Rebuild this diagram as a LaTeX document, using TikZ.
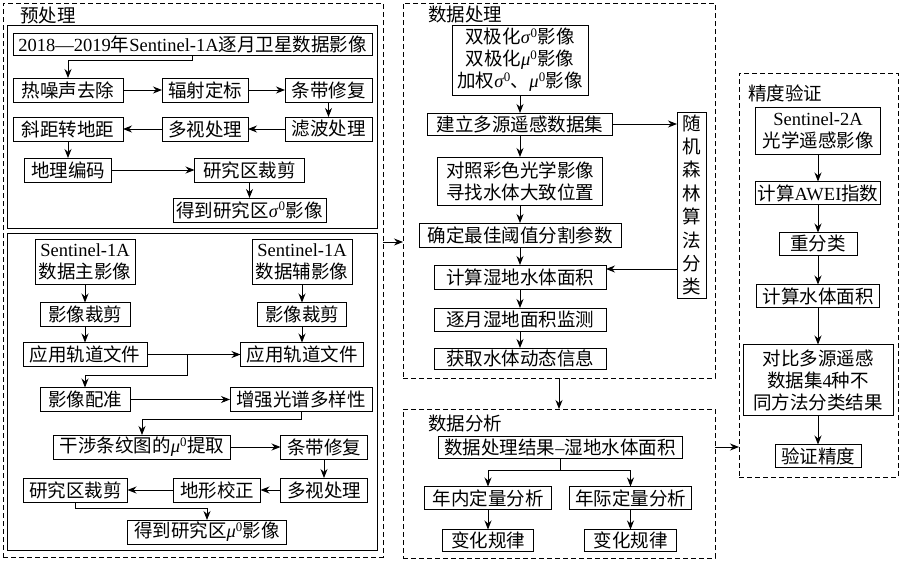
\documentclass[tikz,border=0pt]{standalone}
\usepackage{fontspec}
\setmainfont{Noto Sans CJK SC}
\newfontfamily\engfont{Liberation Serif}
\newcommand{\eng}[1]{{\engfont #1}}
\usepackage{tikz}
\usetikzlibrary{positioning}
\usetikzlibrary{arrows.meta}

\begin{document}
\begin{tikzpicture}[x=1pt,y=-1pt,line width=0.9pt,>={Stealth[length=9pt,width=7pt]},
	every node/.style={inner xsep=2pt,inner ysep=1pt,outer sep=0pt,align=center,font=\fontsize{18.5pt}{22pt}\selectfont},
	bx/.style={draw,minimum height=24pt},
	grp/.style={draw,dash pattern=on 5pt off 3pt,inner sep=0pt}]
	\useasboundingbox (0,0) rectangle (900,560);
	% groups
	\node (pre) [grp,minimum width=380pt,minimum height=554pt] at (193,280) {};
	\node (preA) [draw,minimum width=370pt,minimum height=203pt] at (192,126.5) {};
	\node (preB) [draw,minimum width=370pt,minimum height=317pt] at (192,391.5) {};
	\node (proc) [grp,minimum width=312pt,minimum height=375pt] at (559,190.5) {};
	\node (ana) [grp,minimum width=312pt,minimum height=149pt] at (559,483.5) {};
	\node (val) [grp,minimum width=159pt,minimum height=404pt] at (818.5,275) {};
	\node (prel) at (48,15) {预处理};
	\node (procl) at (465,14) {数据处理};
	\node (anal) at (465,423) {数据分析};
	\node (vall) at (785,93) {精度验证};
	% preprocessing, sigma
	\node (title) [bx,minimum width=359pt,minimum height=22pt] at (192.5,44) {\eng{2018—2019}年\eng{Sentinel-1A}逐月卫星数据影像};
	\node (heat) [bx,minimum width=110pt] at (68,90) {热噪声去除};
	\node (rad) [bx,minimum width=86pt,right=39pt of heat] {辐射定标};
	\node (strip1) [bx,minimum width=87pt,right=37pt of rad] {条带修复};
	\node (filt) [bx,minimum width=87pt,below=15pt of strip1] {滤波处理};
	\node (multi1) [bx,minimum width=86pt,left=37pt of filt] {多视处理};
	\node (slant) [bx,minimum width=110pt,left=39pt of multi1] {斜距转地距};
	\node (geo) [bx,minimum width=87pt,below=17pt of slant] {地理编码};
	\node (clip1) [bx,minimum width=110pt,right=83pt of geo] {研究区裁剪};
	\node (sig) [bx,minimum width=153pt,below=16pt of clip1] {得到研究区\eng{\textit{σ}\textsuperscript{0}}影像};
	\draw[->] (title.south) -- ++(0,5) -| (heat.north);
	\path[->]
		(heat) edge (rad)
		(rad) edge (strip1)
		(strip1) edge (filt)
		(filt) edge (multi1)
		(multi1) edge (slant)
		(slant) edge (geo)
		(geo) edge (clip1)
		(clip1) edge (sig);
	% preprocessing, mu
	\node (main) [bx,minimum width=100pt,minimum height=45pt] at (85,262) {\eng{Sentinel-1A}\\数据主影像};
	\node (aux) [bx,minimum width=100pt,minimum height=45pt,right=117pt of main] {\eng{Sentinel-1A}\\数据辅影像};
	\node (crop1) [bx,minimum width=90pt,below=18pt of main] {影像裁剪};
	\node (crop2) [bx,minimum width=89pt,below=18pt of aux] {影像裁剪};
	\node (orb1) [bx,minimum width=124pt,below=16pt of crop1] {应用轨道文件};
	\node (orb2) [bx,minimum width=123pt,below=16pt of crop2] {应用轨道文件};
	\node (reg) [bx,minimum width=90pt,below=21pt of orb1] {影像配准};
	\node (enh) [bx,minimum width=142pt,right=100pt of reg] {增强光谱多样性};
	\node (intf) [bx,minimum width=177pt] at (142,447) {干涉条纹图的\eng{\textit{μ}\textsuperscript{0}}提取};
	\node (strip2) [bx,minimum width=87pt,right=50pt of intf] {条带修复};
	\node (multi2) [bx,minimum width=87pt,below=19pt of strip2] {多视处理};
	\node (terr) [bx,minimum width=87pt,left=20pt of multi2] {地形校正};
	\node (clip2) [bx,minimum width=104pt,left=46pt of terr] {研究区裁剪};
	\node (mu) [bx,minimum width=159pt] at (207,532) {得到研究区\eng{\textit{μ}\textsuperscript{0}}影像};
	\coordinate (br) at (187,355);
	\path[->]
		(main) edge (crop1)
		(crop1) edge (orb1)
		(aux) edge (crop2)
		(crop2) edge (orb2)
		(orb1) edge (orb2)
		(reg) edge (enh)
		(intf) edge (strip2)
		(strip2) edge (multi2)
		(multi2) edge (terr)
		(terr) edge (clip2);
	\draw[->] (br) -- ++(0,20) -| (reg.north);
	\draw[->] (enh.south) -- ++(0,8) -| (intf.north);
	\draw[->] (clip2.south) -- ++(0,6) -| (mu.north);
	% data processing
	\node (pol) [bx,minimum width=136pt,minimum height=70pt] at (520,60) {双极化\eng{\textit{σ}\textsuperscript{0}}影像\\双极化\eng{\textit{μ}\textsuperscript{0}}影像\\加权\eng{\textit{σ}\textsuperscript{0}}、\eng{\textit{μ}\textsuperscript{0}}影像};
	\node (build) [bx,minimum width=185pt,minimum height=22pt,below=18pt of pol] {建立多源遥感数据集};
	\node (comp) [bx,minimum width=165pt,minimum height=48pt,below=22pt of build] {对照彩色光学影像\\寻找水体大致位置};
	\node (thr) [bx,minimum width=202pt,below=18pt of comp] {确定最佳阈值分割参数};
	\node (area) [bx,minimum width=172pt,below=18pt of thr] {计算湿地水体面积};
	\node (month) [bx,minimum width=172pt,minimum height=23pt,below=19pt of area] {逐月湿地面积监测};
	\node (dyn) [bx,minimum width=172pt,minimum height=21pt,below=17pt of month] {获取水体动态信息};
	\node (forest) [bx,minimum width=29pt,minimum height=186pt,font=\fontsize{18.5pt}{23.4pt}\selectfont] at (691.5,205) {随\\机\\森\\林\\算\\法\\分\\类};
	\path[->]
		(pol) edge (build)
		(build) edge (comp)
		(comp) edge (thr)
		(thr) edge (area)
		(area) edge (month)
		(month) edge (dyn)
		(proc) edge (ana);
	\draw[->] (build.east) -- (build.east -| forest.west);
	\draw[->] ([yshift=8pt]area.east -| forest.west) -- ([yshift=8pt]area.east);
	\draw[->] ([yshift=38pt]pre.east) -- ([yshift=38pt]pre.east -| proc.west);
	% data analysis
	\node (res) [bx,minimum width=244pt,minimum height=22pt] at (560,447) {数据处理结果\eng{–}湿地水体面积};
	\node (intra) [bx,minimum width=127pt,minimum height=23pt] at (488,498) {年内定量分析};
	\node (inter) [bx,minimum width=122pt,minimum height=23pt,right=18pt of intra] {年际定量分析};
	\node (law1) [bx,minimum width=91pt,minimum height=22pt,below=20pt of intra] {变化规律};
	\node (law2) [bx,minimum width=92pt,minimum height=22pt,below=20pt of inter] {变化规律};
	\draw[->] (res.south) -- ++(0,12) -| (intra.north);
	\draw[->] (res.south) -- ++(0,12) -| (inter.north);
	\path[->]
		(intra) edge (law1)
		(inter) edge (law2);
	\draw[->] ([yshift=36.5pt]ana.east) -- ([yshift=36.5pt]ana.east -| val.west);
	% validation
	\node (s2) [bx,minimum width=125pt,minimum height=47pt] at (818,131) {\eng{Sentinel-2A}\\光学遥感影像};
	\node (awei) [bx,minimum width=123pt,minimum height=23pt,below=27pt of s2] {计算\eng{AWEI}指数};
	\node (recl) [bx,minimum width=78pt,minimum height=23pt,below=28pt of awei] {重分类};
	\node (warea) [bx,minimum width=123pt,minimum height=23pt,below=29pt of recl] {计算水体面积};
	\node (cmp) [bx,minimum width=150pt,minimum height=71pt,below=37pt of warea] {对比多源遥感\\数据集\eng{4}种不\\同方法分类结果};
	\node (acc) [bx,minimum width=86pt,minimum height=23pt,below=29pt of cmp] {验证精度};
	\path[->]
		(s2) edge (awei)
		(awei) edge (recl)
		(recl) edge (warea)
		(warea) edge (cmp)
		(cmp) edge (acc);
\end{tikzpicture}
\end{document}
